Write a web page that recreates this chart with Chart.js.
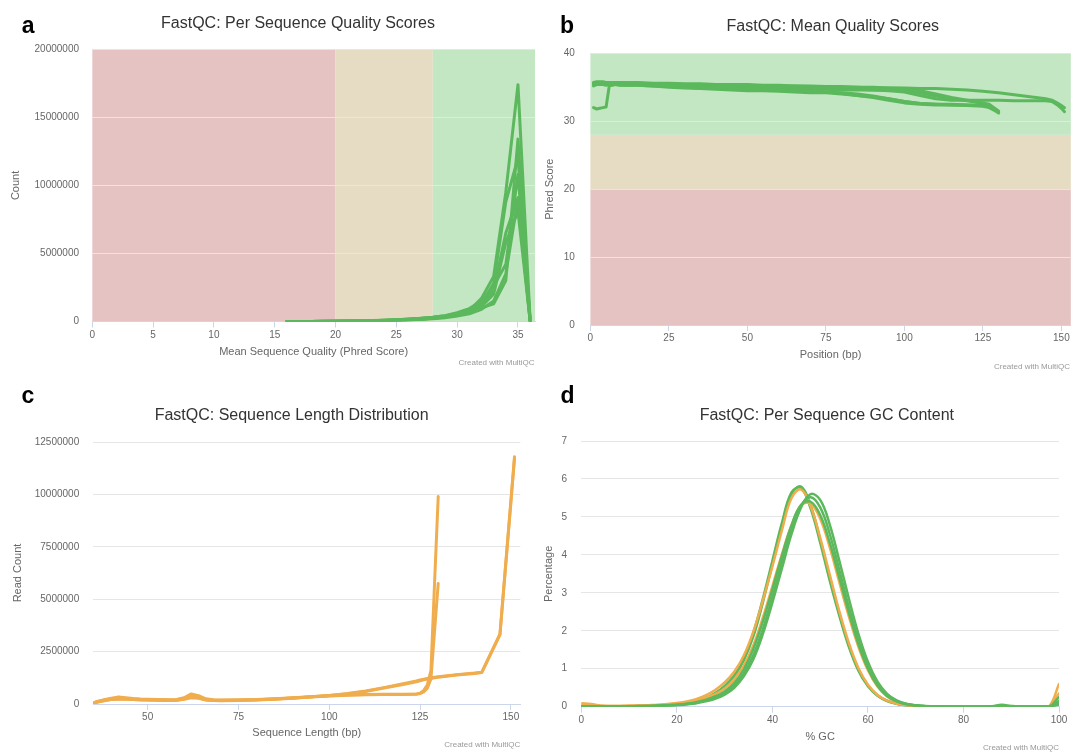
<!DOCTYPE html>
<html lang="en">
<head>
<meta charset="UTF-8">
<title>FastQC summary panels</title>
<script src="https://cdn.jsdelivr.net/npm/chart.js@4.4.1/dist/chart.umd.min.js"></script>
<style>
body { margin: 0; background: #fff; font-family: "Liberation Sans", Arial, sans-serif; }
#page { position: relative; width: 1083px; height: 753px; overflow: hidden; }
canvas { position: absolute; }
.lbl { position: absolute; font-size: 23px; font-weight: bold; line-height: 1; color: #000; }
.title { position: absolute; font-size: 16px; line-height: 1; color: #333; white-space: nowrap; transform: translateX(-50%); }
.credit { position: absolute; font-size: 8px; line-height: 1; color: #999; white-space: nowrap; }
</style>
</head>
<body>
<div id="page">
    <canvas id="chartA" width="545" height="378" style="left:0;top:0;"></canvas>
    <canvas id="chartB" width="553" height="378" style="left:530px;top:0;"></canvas>
    <canvas id="chartC" width="545" height="375" style="left:0;top:378px;"></canvas>
    <canvas id="chartD" width="553" height="375" style="left:530px;top:378px;"></canvas>

    <div class="lbl" style="left:21.7px;top:13.5px;">a</div>
    <div class="lbl" style="left:560px;top:13.5px;">b</div>
    <div class="lbl" style="left:21.5px;top:383.5px;">c</div>
    <div class="lbl" style="left:560.5px;top:383.5px;">d</div>

    <div class="title" style="left:298px;top:14.6px;">FastQC: Per Sequence Quality Scores</div>
    <div class="title" style="left:832.8px;top:18.2px;">FastQC: Mean Quality Scores</div>
    <div class="title" style="left:291.6px;top:407px;">FastQC: Sequence Length Distribution</div>
    <div class="title" style="left:826.8px;top:406.5px;">FastQC: Per Sequence GC Content</div>

    <div class="credit" style="right:548.4px;top:359px;">Created with MultiQC</div>
    <div class="credit" style="right:13px;top:362.8px;">Created with MultiQC</div>
    <div class="credit" style="right:562.7px;top:741px;">Created with MultiQC</div>
    <div class="credit" style="right:24px;top:743.8px;">Created with MultiQC</div>
</div>

<script>
// ---- data ----
// a: per sequence quality scores
const qualScore = [16,17,18,19,20,21,22,23,24,25,26,27,28,29,30,31,32,33,34,35,36];
const qualCounts = [
    [3000,5000,9000,14000,22000,33000,48000,68000,95000,130000,180000,240000,320000,420000,560000,800000,1700000,3300000,9500000,17400000,80000],
    [2000,3000,6000,10000,16000,25000,37000,52000,72000,100000,140000,190000,250000,330000,440000,620000,1000000,1300000,3000000,13400000,50000],
    [2000,4000,7000,12000,19000,29000,42000,60000,85000,115000,160000,215000,290000,390000,600000,900000,1300000,2800000,8800000,12000000,60000],
    [1000,3000,5000,9000,15000,23000,34000,49000,70000,98000,135000,185000,245000,340000,520000,760000,1200000,2300000,6500000,9100000,40000],
    [1000,2000,4000,8000,13000,20000,30000,44000,63000,90000,125000,170000,230000,320000,480000,700000,1100000,2000000,5800000,8100000,40000],
    [2000,4000,8000,13000,20000,31000,45000,64000,90000,125000,170000,230000,310000,420000,650000,950000,1500000,2600000,4200000,10800000,70000],
    [1000,2000,4000,7000,11000,18000,27000,40000,57000,80000,110000,150000,200000,280000,400000,560000,900000,1500000,3500000,9000000,30000]
];
const qualXTicks = [0,5,10,15,20,25,30,35];
const qualYTicks = [0,5000000,10000000,15000000,20000000];

// b: mean quality per position (130 bp and 151 bp libraries)
const pos130 = [1,2,3,4,5,6,7,8,9,10,15,20,25,30,35,40,45,50,55,60,65,70,75,80,85,90,95,100,105,110,115,120,125,127,129,130];
const pos151 = [1,2,3,4,5,6,7,8,9,10,15,20,25,30,35,40,45,50,55,60,65,70,75,80,85,90,95,100,105,110,115,120,125,130,135,140,145,147,149,150,151];
const mean130 = [
    [35.5,35.6,35.6,35.6,35.5,35.6,35.6,35.6,35.5,35.5,35.5,35.4,35.2,35.0,34.9,34.8,34.8,34.7,34.7,34.6,34.5,34.4,34.3,34.1,33.8,33.5,33.1,32.7,32.5,32.4,32.4,32.3,32.2,32.0,31.5,31.2],
    [35.2,35.4,35.4,35.4,35.3,35.4,35.4,35.4,35.3,35.3,35.3,35.2,35.0,34.9,34.8,34.7,34.6,34.5,34.5,34.4,34.3,34.2,34.2,34.0,33.8,33.6,33.3,32.9,32.6,32.5,32.5,32.4,32.3,32.2,31.8,31.5],
    [35.6,35.7,35.7,35.7,35.6,35.7,35.7,35.7,35.6,35.6,35.6,35.5,35.5,35.4,35.4,35.3,35.3,35.3,35.2,35.2,35.2,35.1,35.1,35.0,35.0,34.9,34.9,34.8,34.5,34.0,33.5,33.1,32.7,32.5,31.8,31.4],
    [32.0,31.8,31.9,32.0,32.1,35.2,35.3,35.4,35.4,35.3,35.3,35.2,35.1,35.0,34.9,34.8,34.8,34.7,34.6,34.6,34.5,34.4,34.3,34.2,34.0,33.7,33.3,32.9,32.6,32.5,32.4,32.4,32.3,32.1,31.7,31.3],
    [35.4,35.5,35.5,35.5,35.4,35.5,35.5,35.5,35.4,35.4,35.4,35.3,35.2,35.2,35.1,35.0,35.0,34.9,34.9,34.8,34.8,34.7,34.7,34.6,34.6,34.6,34.6,34.6,34.2,33.7,33.3,33.0,32.6,32.3,31.7,31.3]
];
const mean151 = [
    [35.7,35.8,35.8,35.8,35.7,35.7,35.7,35.7,35.7,35.7,35.7,35.6,35.6,35.5,35.5,35.4,35.4,35.4,35.3,35.3,35.2,35.2,35.1,35.1,35.0,35.0,34.9,34.9,34.8,34.8,34.7,34.6,34.4,34.2,33.9,33.6,33.3,33.1,32.6,32.3,32.0],
    [35.3,35.5,35.5,35.5,35.4,35.5,35.5,35.5,35.5,35.5,35.4,35.4,35.3,35.2,35.2,35.1,35.1,35.1,35.0,35.0,34.9,34.9,34.8,34.8,34.7,34.6,34.5,34.3,33.8,33.3,33.1,33.1,33.1,33.1,33.0,33.0,33.0,32.9,32.3,31.9,31.4]
];
const meanXTicks = [0,25,50,75,100,125,150];
const meanYTicks = [0,10,20,30,40];
const phredCuts = [0, 20, 28, 100];   // poor / reasonable / good

// c: sequence length distribution
const len130 = [35,36,38,40,42,44,46,48,50,53,56,58,60,62,64,66,68,70,75,80,85,90,95,100,105,110,115,120,124,125,126,127,128,129,130];
const len151 = [35,36,38,40,42,44,46,48,50,53,56,58,60,62,64,66,68,70,75,80,85,90,95,100,105,110,115,120,124,125,126,127,128,129,130,135,140,142,147,151];
const reads130 = [
    [40000,120000,200000,280000,340000,300000,260000,240000,230000,210000,200000,220000,300000,480000,400000,250000,200000,190000,190000,200000,240000,290000,340000,390000,430000,450000,460000,470000,480000,520000,650000,900000,1600000,5800000,9900000],
    [20000,90000,160000,230000,250000,240000,220000,200000,190000,180000,170000,180000,240000,330000,300000,200000,170000,160000,170000,190000,230000,280000,330000,380000,420000,440000,450000,455000,460000,500000,580000,750000,1200000,3500000,5750000]
];
const reads151 = [
    [30000,100000,180000,250000,270000,260000,240000,220000,210000,200000,190000,200000,260000,360000,320000,220000,190000,180000,190000,210000,250000,300000,350000,410000,500000,620000,780000,950000,1100000,1150000,1180000,1220000,1250000,1280000,1300000,1400000,1480000,1520000,3350000,11800000],
    [25000,80000,150000,210000,230000,225000,210000,195000,185000,175000,170000,180000,230000,300000,270000,190000,170000,165000,175000,200000,240000,290000,345000,400000,480000,600000,760000,920000,1060000,1110000,1150000,1190000,1220000,1250000,1280000,1380000,1460000,1500000,3300000,11700000]
];
const lenXTicks = [50,75,100,125,150];
const lenYTicks = [0,2500000,5000000,7500000,10000000,12500000];

// d: per sequence GC content (% of reads)
const gcPct = [0,2,4,6,8,10,12,14,16,18,20,22,24,26,28,30,32,34,36,38,40,42,44,46,48,50,52,54,56,58,60,62,64,66,68,70,72,74,76,78,80,82,84,86,88,90,92,94,96,98,100];
const gcPass = [
    [0.01,0.01,0.01,0.01,0.01,0.01,0.01,0.01,0.02,0.03,0.04,0.06,0.09,0.14,0.21,0.32,0.50,0.80,1.25,1.92,2.75,3.65,4.55,5.25,5.60,5.45,4.80,3.85,2.85,1.92,1.18,0.66,0.34,0.17,0.08,0.04,0.02,0.01,0.01,0,0,0,0,0,0,0,0,0,0,0,0.25],
    [0.01,0.01,0.01,0.01,0.01,0.01,0.01,0.02,0.02,0.03,0.05,0.07,0.10,0.16,0.24,0.36,0.56,0.88,1.36,2.05,2.90,3.80,4.65,5.30,5.52,5.25,4.55,3.60,2.62,1.75,1.06,0.59,0.30,0.15,0.07,0.03,0.01,0.01,0,0,0,0,0,0.01,0.05,0.02,0,0,0,0,0.10],
    [0.01,0.01,0.01,0.01,0.01,0.01,0.02,0.02,0.03,0.04,0.05,0.08,0.12,0.18,0.27,0.40,0.62,0.98,1.52,2.25,3.10,3.98,4.78,5.32,5.40,5.05,4.32,3.40,2.48,1.65,1.00,0.55,0.28,0.14,0.07,0.03,0.01,0.01,0,0,0,0,0,0,0,0,0,0,0,0,0.05],
    [0.02,0.02,0.01,0.01,0.01,0.01,0.02,0.02,0.03,0.05,0.07,0.10,0.15,0.23,0.36,0.55,0.82,1.22,1.85,2.75,3.75,4.75,5.60,5.80,5.30,4.40,3.40,2.45,1.62,0.98,0.56,0.30,0.16,0.08,0.04,0.02,0.01,0.01,0,0,0,0,0,0,0,0,0,0,0,0,0.15],
    [0.01,0.01,0.01,0.01,0.01,0.01,0.01,0.02,0.03,0.04,0.06,0.09,0.14,0.21,0.33,0.52,0.80,1.25,1.95,2.85,3.85,4.85,5.65,5.76,5.22,4.32,3.32,2.40,1.58,0.95,0.54,0.29,0.15,0.08,0.04,0.02,0.01,0,0,0,0,0,0,0,0,0,0,0,0,0,0.08]
];
const gcWarn = [
    [0.06,0.05,0.02,0.02,0.02,0.02,0.03,0.03,0.04,0.06,0.08,0.11,0.16,0.23,0.33,0.48,0.72,1.08,1.62,2.35,3.18,4.02,4.78,5.30,5.35,4.95,4.20,3.28,2.38,1.58,0.96,0.53,0.27,0.13,0.06,0.03,0.01,0.01,0,0,0,0,0,0,0,0,0,0,0,0.02,0.35],
    [0.09,0.07,0.03,0.02,0.02,0.03,0.03,0.04,0.05,0.07,0.10,0.14,0.20,0.30,0.44,0.64,0.92,1.35,1.98,2.80,3.70,4.65,5.50,5.72,5.28,4.45,3.48,2.52,1.68,1.02,0.58,0.31,0.16,0.08,0.04,0.02,0.01,0.01,0,0,0,0,0,0,0,0,0,0,0,0.02,0.60]
];
const gcXTicks = [0,20,40,60,80,100];
const gcYTicks = [0,1,2,3,4,5,6,7];

// ---- styling ----
const GREEN = '#5cb85c';
const ORANGE = '#f0ad4e';
const ZONE_COLORS = ['#e6c3c3', '#e6dcc3', '#c3e6c3'];

Chart.defaults.font.family = '"Liberation Sans", Arial, sans-serif';

function pts(xs, ys) {
    return ys.map((y, i) => ({ x: xs[i], y: y }));
}

function lines(xs, series, color, width) {
    return series.map(ys => ({
        data: pts(xs, ys),
        borderColor: color,
        borderWidth: width,
        fill: false
    }));
}

function zones(axis) {
    const out = [];
    for (let i = 0; i < phredCuts.length - 1; i++) {
        out.push({ axis: axis, from: phredCuts[i], to: phredCuts[i + 1], color: ZONE_COLORS[i] });
    }
    return out;
}

// coloured background bands, drawn under the grid
const bandPlugin = {
    id: 'bands',
    beforeDraw(chart, args, opts) {
        const ctx = chart.ctx;
        const a = chart.chartArea;
        (opts.list || []).forEach(b => {
            const sc = chart.scales[b.axis];
            const p1 = sc.getPixelForValue(b.from);
            const p2 = sc.getPixelForValue(b.to);
            ctx.save();
            ctx.fillStyle = b.color;
            if (b.axis === 'x') {
                const l = Math.max(a.left, Math.min(p1, p2));
                const r = Math.min(a.right, Math.max(p1, p2));
                if (r > l) ctx.fillRect(l, a.top, r - l, a.bottom - a.top);
            } else {
                const t = Math.max(a.top, Math.min(p1, p2));
                const bt = Math.min(a.bottom, Math.max(p1, p2));
                if (bt > t) ctx.fillRect(a.left, t, a.right - a.left, bt - t);
            }
            ctx.restore();
        });
    }
};

function fixedTicks(list) {
    return scale => { scale.ticks = list.map(v => ({ value: v })); };
}

function buildChart(id, o) {
    return new Chart(document.getElementById(id), {
        type: 'line',
        data: { datasets: o.datasets },
        options: {
            responsive: false,
            animation: false,
            events: [],
            layout: { padding: { left: 0, top: o.top, right: o.right, bottom: 0 } },
            plugins: {
                legend: { display: false },
                tooltip: { enabled: false },
                bands: { list: o.bands || [] }
            },
            elements: {
                point: { radius: 0 },
                line: { tension: o.tension || 0, borderCapStyle: 'round', borderJoinStyle: 'round' }
            },
            scales: {
                x: {
                    type: 'linear',
                    min: o.xMin,
                    max: o.xMax,
                    afterBuildTicks: fixedTicks(o.xTicks),
                    afterFit: s => { s.height = o.xH; },
                    ticks: { padding: o.xPad, color: '#666', font: { size: 10 }, maxRotation: 0, autoSkip: false, callback: v => String(v) },
                    grid: { drawOnChartArea: false, drawTicks: true, tickLength: 6, color: '#ccd6eb' },
                    border: { display: true, color: '#ccd6eb' },
                    title: { display: true, text: o.xTitle, color: '#666', font: { size: 11 }, padding: { top: 0, bottom: o.xTitlePad } }
                },
                y: {
                    type: 'linear',
                    min: o.yMin,
                    max: o.yMax,
                    afterBuildTicks: fixedTicks(o.yTicks),
                    afterFit: s => { s.width = o.yW; },
                    ticks: { padding: o.yPad, color: '#666', font: { size: 10 }, callback: v => String(v) },
                    grid: { drawTicks: false, color: c => (c.tick && c.tick.value === 0) ? 'rgba(0,0,0,0)' : '#e6e6e6' },
                    border: { display: false },
                    title: { display: true, text: o.yTitle, color: '#666', font: { size: 11 }, padding: { top: o.yTitlePad, bottom: 0 } }
                }
            }
        },
        plugins: [bandPlugin]
    });
}

// a
buildChart('chartA', {
    datasets: lines(qualScore, qualCounts, GREEN, 3),
    bands: zones('x'),
    xMin: 0, xMax: 36.4, xTicks: qualXTicks,
    yMin: 0, yMax: 20000000, yTicks: qualYTicks,
    top: 49.3, right: 10, yW: 92.3, yPad: 13.3, yTitlePad: 9.7,
    xH: 56.5, xPad: 1.5, xTitlePad: 19.7,
    xTitle: 'Mean Sequence Quality (Phred Score)', yTitle: 'Count'
});

// b
buildChart('chartB', {
    datasets: lines(pos130, mean130, GREEN, 3).concat(lines(pos151, mean151, GREEN, 3)),
    bands: zones('y'),
    xMin: 0, xMax: 153, xTicks: meanXTicks,
    yMin: 0, yMax: 40, yTicks: meanYTicks,
    top: 53.3, right: 12.2, yW: 60.4, yPad: 15.6, yTitlePad: 13.1,
    xH: 53, xPad: 1, xTitlePad: 16.4,
    xTitle: 'Position (bp)', yTitle: 'Phred Score'
});

// c
buildChart('chartC', {
    datasets: lines(len130, reads130, ORANGE, 3).concat(lines(len151, reads151, ORANGE, 3)),
    xMin: 35, xMax: 152.6, xTicks: lenXTicks,
    yMin: 0, yMax: 12500000, yTicks: lenYTicks,
    top: 64, right: 24.7, yW: 93.2, yPad: 14, yTitlePad: 11.4,
    xH: 49, xPad: 1.3, xTitlePad: 13.1,
    xTitle: 'Sequence Length (bp)', yTitle: 'Read Count'
});

// d
const gcSets = lines(gcPct, gcPass.slice(0, 3), GREEN, 2.5)
    .concat(lines(gcPct, gcWarn, ORANGE, 2.5))
    .concat(lines(gcPct, gcPass.slice(3), GREEN, 2.5));
buildChart('chartD', {
    datasets: gcSets,
    tension: 0.4,
    xMin: 0, xMax: 100, xTicks: gcXTicks,
    yMin: 0, yMax: 7, yTicks: gcYTicks,
    top: 63, right: 24, yW: 51.4, yPad: 14.4, yTitlePad: 12.8,
    xH: 46.3, xPad: 1.3, xTitlePad: 9.7,
    xTitle: '% GC', yTitle: 'Percentage'
});
</script>
</body>
</html>
